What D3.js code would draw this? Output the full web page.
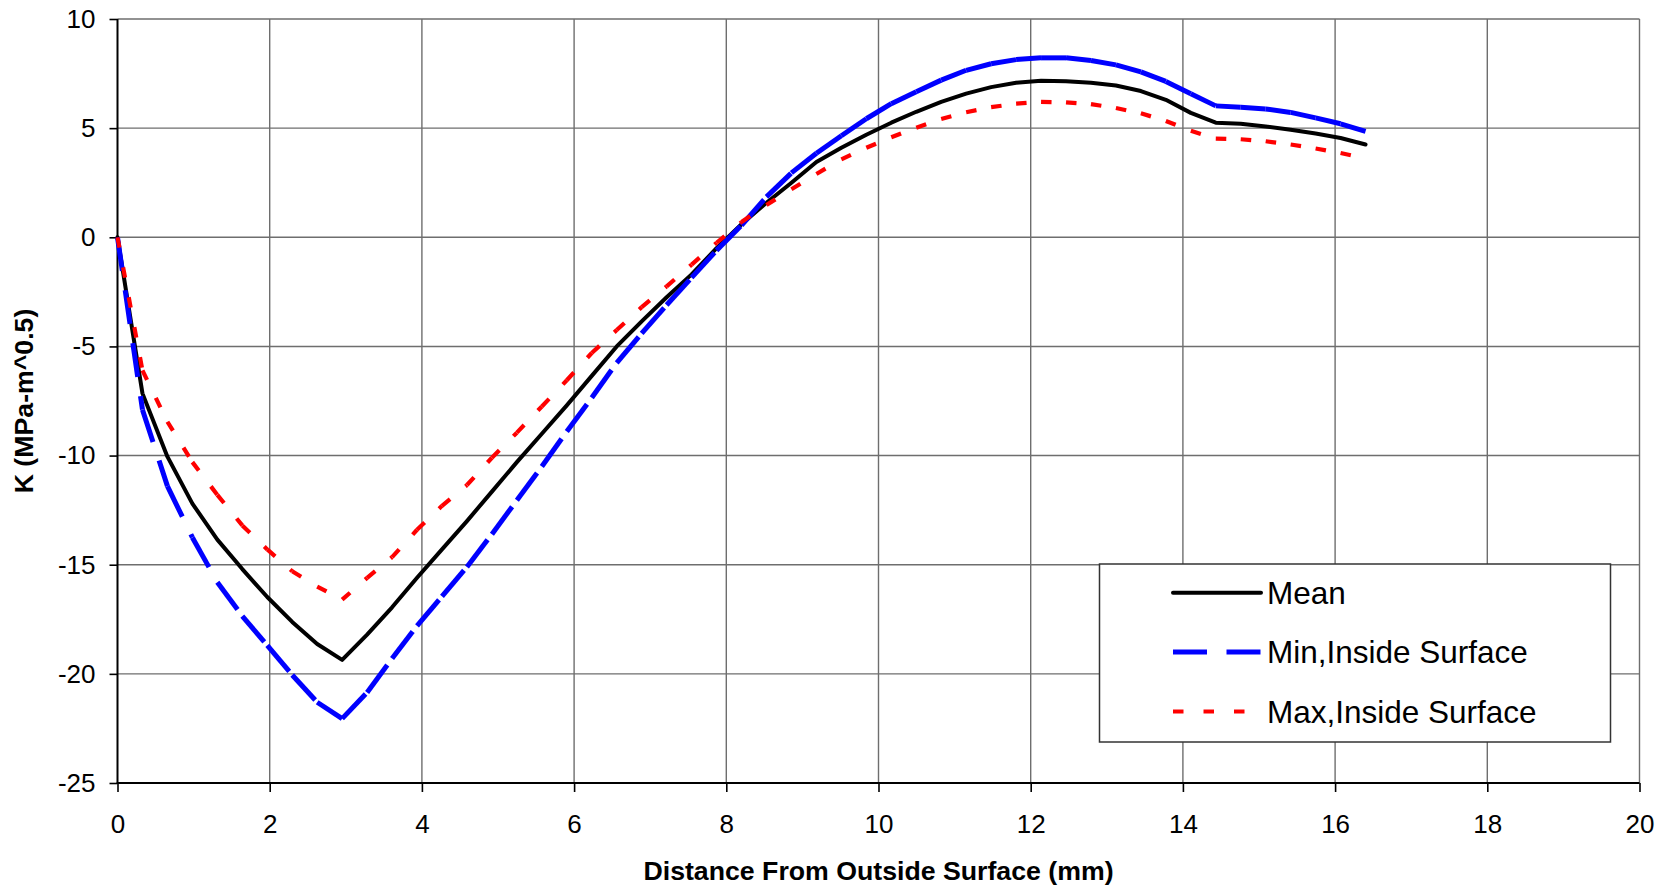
<!DOCTYPE html>
<html>
<head>
<meta charset="utf-8">
<script src="https://cdn.jsdelivr.net/npm/d3@7"></script>
<style>
  html, body { margin: 0; padding: 0; background: #ffffff; }
  svg { display: block; font-family: "Liberation Sans", Arial, sans-serif; }
</style>
</head>
<body>
<svg id="chart" width="1669" height="891"></svg>
<script>
// Distance from the outside surface (mm) at each computed point
const distance = [0, 0.328, 0.656, 0.984, 1.312, 1.64, 1.968, 2.296, 2.624, 2.952,
  3.28, 3.608, 3.936, 4.264, 4.592, 4.92, 5.248, 5.576, 5.904, 6.232,
  6.56, 6.888, 7.216, 7.544, 7.872, 8.2, 8.528, 8.856, 9.184, 9.512,
  9.84, 10.168, 10.496, 10.824, 11.152, 11.48, 11.808, 12.136, 12.464, 12.792,
  13.12, 13.448, 13.776, 14.104, 14.432, 14.76, 15.088, 15.416, 15.744, 16.072, 16.4];

// Stress intensity K (MPa-m^0.5) for each case
const meanK = [0, -7.15, -10.05, -12.2, -13.85, -15.2, -16.48, -17.62, -18.63, -19.36,
  -18.2, -16.95, -15.6, -14.3, -13.0, -11.65, -10.3, -9.0, -7.7, -6.35,
  -5.0, -3.85, -2.75, -1.7, -0.5, 0.6, 1.58, 2.5, 3.45, 4.1,
  4.7, 5.25, 5.75, 6.2, 6.58, 6.88, 7.08, 7.17, 7.15, 7.08,
  6.95, 6.7, 6.3, 5.7, 5.25, 5.2, 5.08, 4.93, 4.75, 4.55, 4.25];

const minInsideK = [0, -7.9, -11.4, -13.75, -15.8, -17.35, -18.7, -20.05, -21.3, -22.05,
  -20.85, -19.3, -17.8, -16.45, -15.1, -13.6, -12.05, -10.5, -8.9, -7.35,
  -5.75, -4.4, -3.1, -1.85, -0.6, 0.55, 1.85, 2.95, 3.85, 4.65,
  5.43, 6.12, 6.67, 7.2, 7.65, 7.95, 8.14, 8.22, 8.22, 8.1,
  7.9, 7.58, 7.14, 6.58, 6.02, 5.96, 5.88, 5.72, 5.47, 5.2, 4.85];

const maxInsideK = [0, -6.1, -8.45, -10.3, -11.8, -13.2, -14.3, -15.3, -16.0, -16.6,
  -15.6, -14.65, -13.4, -12.3, -11.35, -10.1, -8.95, -7.75, -6.55, -5.3,
  -4.25, -3.2, -2.25, -1.25, -0.25, 0.7, 1.48, 2.2, 2.9, 3.57,
  4.1, 4.58, 5.02, 5.42, 5.73, 5.96, 6.12, 6.2, 6.18, 6.1,
  5.92, 5.68, 5.33, 4.88, 4.52, 4.49, 4.4, 4.25, 4.07, 3.86, 3.62];

const seriesNames = ["Mean", "Min,Inside Surface", "Max,Inside Surface"];
const xTickValues = [0, 2, 4, 6, 8, 10, 12, 14, 16, 18, 20];
const yTickValues = [-25, -20, -15, -10, -5, 0, 5, 10];
const xTitle = "Distance From Outside Surface (mm)";
const yTitle = "K (MPa-m^0.5)";

const svg = d3.select("#chart");
const plot = { left: 117.5, right: 1639.5, top: 19, bottom: 783 };

const x = d3.scaleLinear().domain([0, 20]).range([plot.left, plot.right]);
const y = d3.scaleLinear().domain([-25, 10]).range([plot.bottom, plot.top]);

// Grid
const grid = svg.append("g").attr("stroke", "#6e6e6e").attr("stroke-width", 1.4);
grid.selectAll("line.v").data(xTickValues.slice(1)).enter().append("line")
  .attr("x1", d => x(d)).attr("x2", d => x(d))
  .attr("y1", plot.top).attr("y2", plot.bottom);
grid.selectAll("line.h").data(yTickValues.slice(1)).enter().append("line")
  .attr("x1", plot.left).attr("x2", plot.right)
  .attr("y1", d => y(d)).attr("y2", d => y(d));

// Axes (plain hyphen for negative labels)
const fontTick = 26;
const plainFormat = d => String(d);
const xAxis = d3.axisBottom(x).tickValues(xTickValues).tickSize(9).tickPadding(23)
  .tickFormat(plainFormat);
const yAxis = d3.axisLeft(y).tickValues(yTickValues).tickSize(8).tickPadding(14)
  .tickFormat(plainFormat);

const gx = svg.append("g").attr("transform", `translate(0,${plot.bottom})`).call(xAxis);
const gy = svg.append("g").attr("transform", `translate(${plot.left},0)`).call(yAxis);
[gx, gy].forEach(g => {
  g.select(".domain").remove();
  g.selectAll(".tick line").attr("stroke", "#000").attr("stroke-width", 1.6);
  g.selectAll(".tick text").attr("fill", "#000")
    .style("font-size", fontTick + "px")
    .style("font-family", "'Liberation Sans', Arial, sans-serif");
});

// Axis lines
svg.append("line").attr("x1", plot.left).attr("x2", plot.left)
  .attr("y1", plot.top).attr("y2", plot.bottom + 0.8)
  .attr("stroke", "#000").attr("stroke-width", 2);
svg.append("line").attr("x1", plot.left - 0.8).attr("x2", plot.right)
  .attr("y1", plot.bottom).attr("y2", plot.bottom)
  .attr("stroke", "#000").attr("stroke-width", 2);

// Series: each segment starts its own dash pattern
const line = d3.line().x(d => x(d[0])).y(d => y(d[1]));
const series = [
  { name: seriesNames[0], values: meanK, color: "#000000", width: 4, dash: null },
  { name: seriesNames[1], values: minInsideK, color: "#0000ff", width: 5, dash: "34,19.5" },
  { name: seriesNames[2], values: maxInsideK, color: "#ff0000", width: 4.2, dash: "10.5,20" }
];

series.forEach(s => {
  const pts = distance.map((d, i) => [d, s.values[i]]);
  const g = svg.append("g").attr("fill", "none").attr("stroke", s.color)
    .attr("stroke-width", s.width);
  if (!s.dash) {
    g.append("path").attr("d", line(pts))
      .attr("stroke-linejoin", "round").attr("stroke-linecap", "round");
  } else {
    g.selectAll("path").data(d3.pairs(pts)).enter().append("path")
      .attr("d", d => line(d))
      .attr("stroke-dasharray", s.dash)
      .attr("stroke-linecap", "butt");
  }
});

// Legend
const legend = { x: 1099.5, y: 564, w: 511, h: 178 };
svg.append("rect").attr("x", legend.x).attr("y", legend.y)
  .attr("width", legend.w).attr("height", legend.h)
  .attr("fill", "#fff").attr("stroke", "#333").attr("stroke-width", 1.5);
const legendRows = [592.7, 652, 711.5];
series.forEach((s, i) => {
  const ly = legendRows[i];
  svg.append("line").attr("x1", 1173).attr("x2", 1261).attr("y1", ly).attr("y2", ly)
    .attr("stroke", s.color).attr("stroke-width", s.width)
    .attr("stroke-dasharray", s.dash)
    .attr("stroke-linecap", s.dash ? "butt" : "round");
  svg.append("text").attr("x", 1267).attr("y", ly).attr("dy", "0.36em")
    .style("font-size", "31.5px").attr("fill", "#000").text(s.name);
});

// Axis titles
svg.append("text").attr("x", (plot.left + plot.right) / 2).attr("y", 880)
  .attr("text-anchor", "middle").style("font-size", "26.7px").style("font-weight", "bold")
  .text(xTitle);
svg.append("text").attr("transform", `translate(33,${(plot.top + plot.bottom) / 2}) rotate(-90)`)
  .attr("text-anchor", "middle").style("font-size", "26.7px").style("font-weight", "bold")
  .text(yTitle);
</script>
</body>
</html>
